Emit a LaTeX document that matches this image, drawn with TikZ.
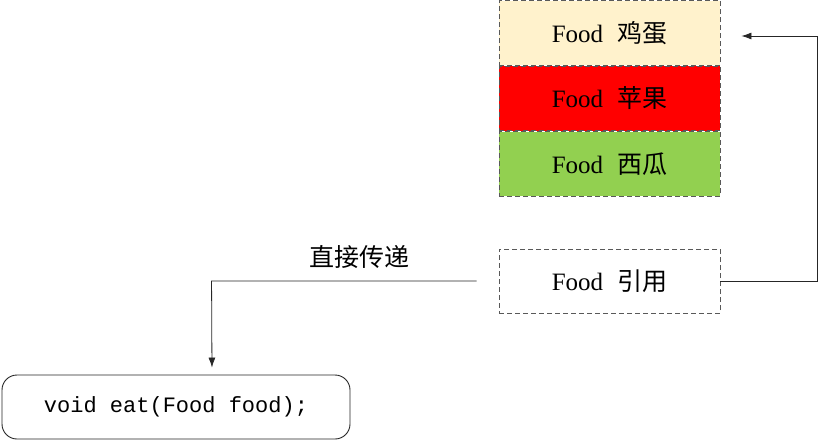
\documentclass[tikz,border=0pt]{standalone}
\usepackage{fontspec}
\setmainfont{Liberation Serif}
\setmonofont{Liberation Mono}
\newfontfamily\cjk{Noto Sans CJK SC}
\usetikzlibrary{positioning,arrows.meta}
\definecolor{eggFill}{HTML}{FFF2CC}
\definecolor{appleFill}{HTML}{FF0000}
\definecolor{melonFill}{HTML}{92D050}
\definecolor{boxStroke}{HTML}{595959}
\definecolor{wireCol}{HTML}{262626}
\newcommand{\foodtxt}[1]{Food\hspace{14pt}{\cjk #1}}

\begin{document}
\begin{tikzpicture}[
  x=1pt, y=1pt,
  font=\fontsize{25}{30}\selectfont,
  node distance=0pt,
  foodbox/.style={draw=boxStroke, dash pattern=on 5pt off 3pt, line width=0.9pt, minimum width=221pt, minimum height=64.5pt, inner sep=0pt},
  funcbox/.style={draw=wireCol, line width=0.9pt, rounded corners=15pt, minimum width=348pt, minimum height=64pt, inner sep=0pt, font=\fontsize{22}{26}\selectfont\ttfamily},
  wire/.style={-{Latex[length=10pt,width=7pt]}, draw=wireCol, line width=0.8pt}
]
\useasboundingbox (0,0) rectangle (818,-441);

% stacked food boxes
\node[foodbox, fill=eggFill] (eggbox) at (609.5,-33) {\foodtxt{鸡蛋}};
\node[foodbox, fill=appleFill, below=of eggbox] (applebox) {\foodtxt{苹果}};
\node[foodbox, fill=melonFill, below=of applebox] (melonbox) {\foodtxt{西瓜}};

% reference box
\node[foodbox, minimum height=64pt] (refbox) at (609.5,-281) {\foodtxt{引用}};

% function box
\node[funcbox] (eatbox) at (176,-407) {void eat(Food food);};

% wires
\draw[wire] (refbox.east) -- ++(97,0) |- ([xshift=21pt,yshift=-3pt]eggbox.east);
\draw[wire, shorten >=7pt] ([xshift=-22pt]refbox.west) -- node[above=9pt, pos=0.44] (passlbl) {\cjk 直接传递} ++(-265,0) -- ([xshift=36pt]eatbox.north);

\end{tikzpicture}
\end{document}
